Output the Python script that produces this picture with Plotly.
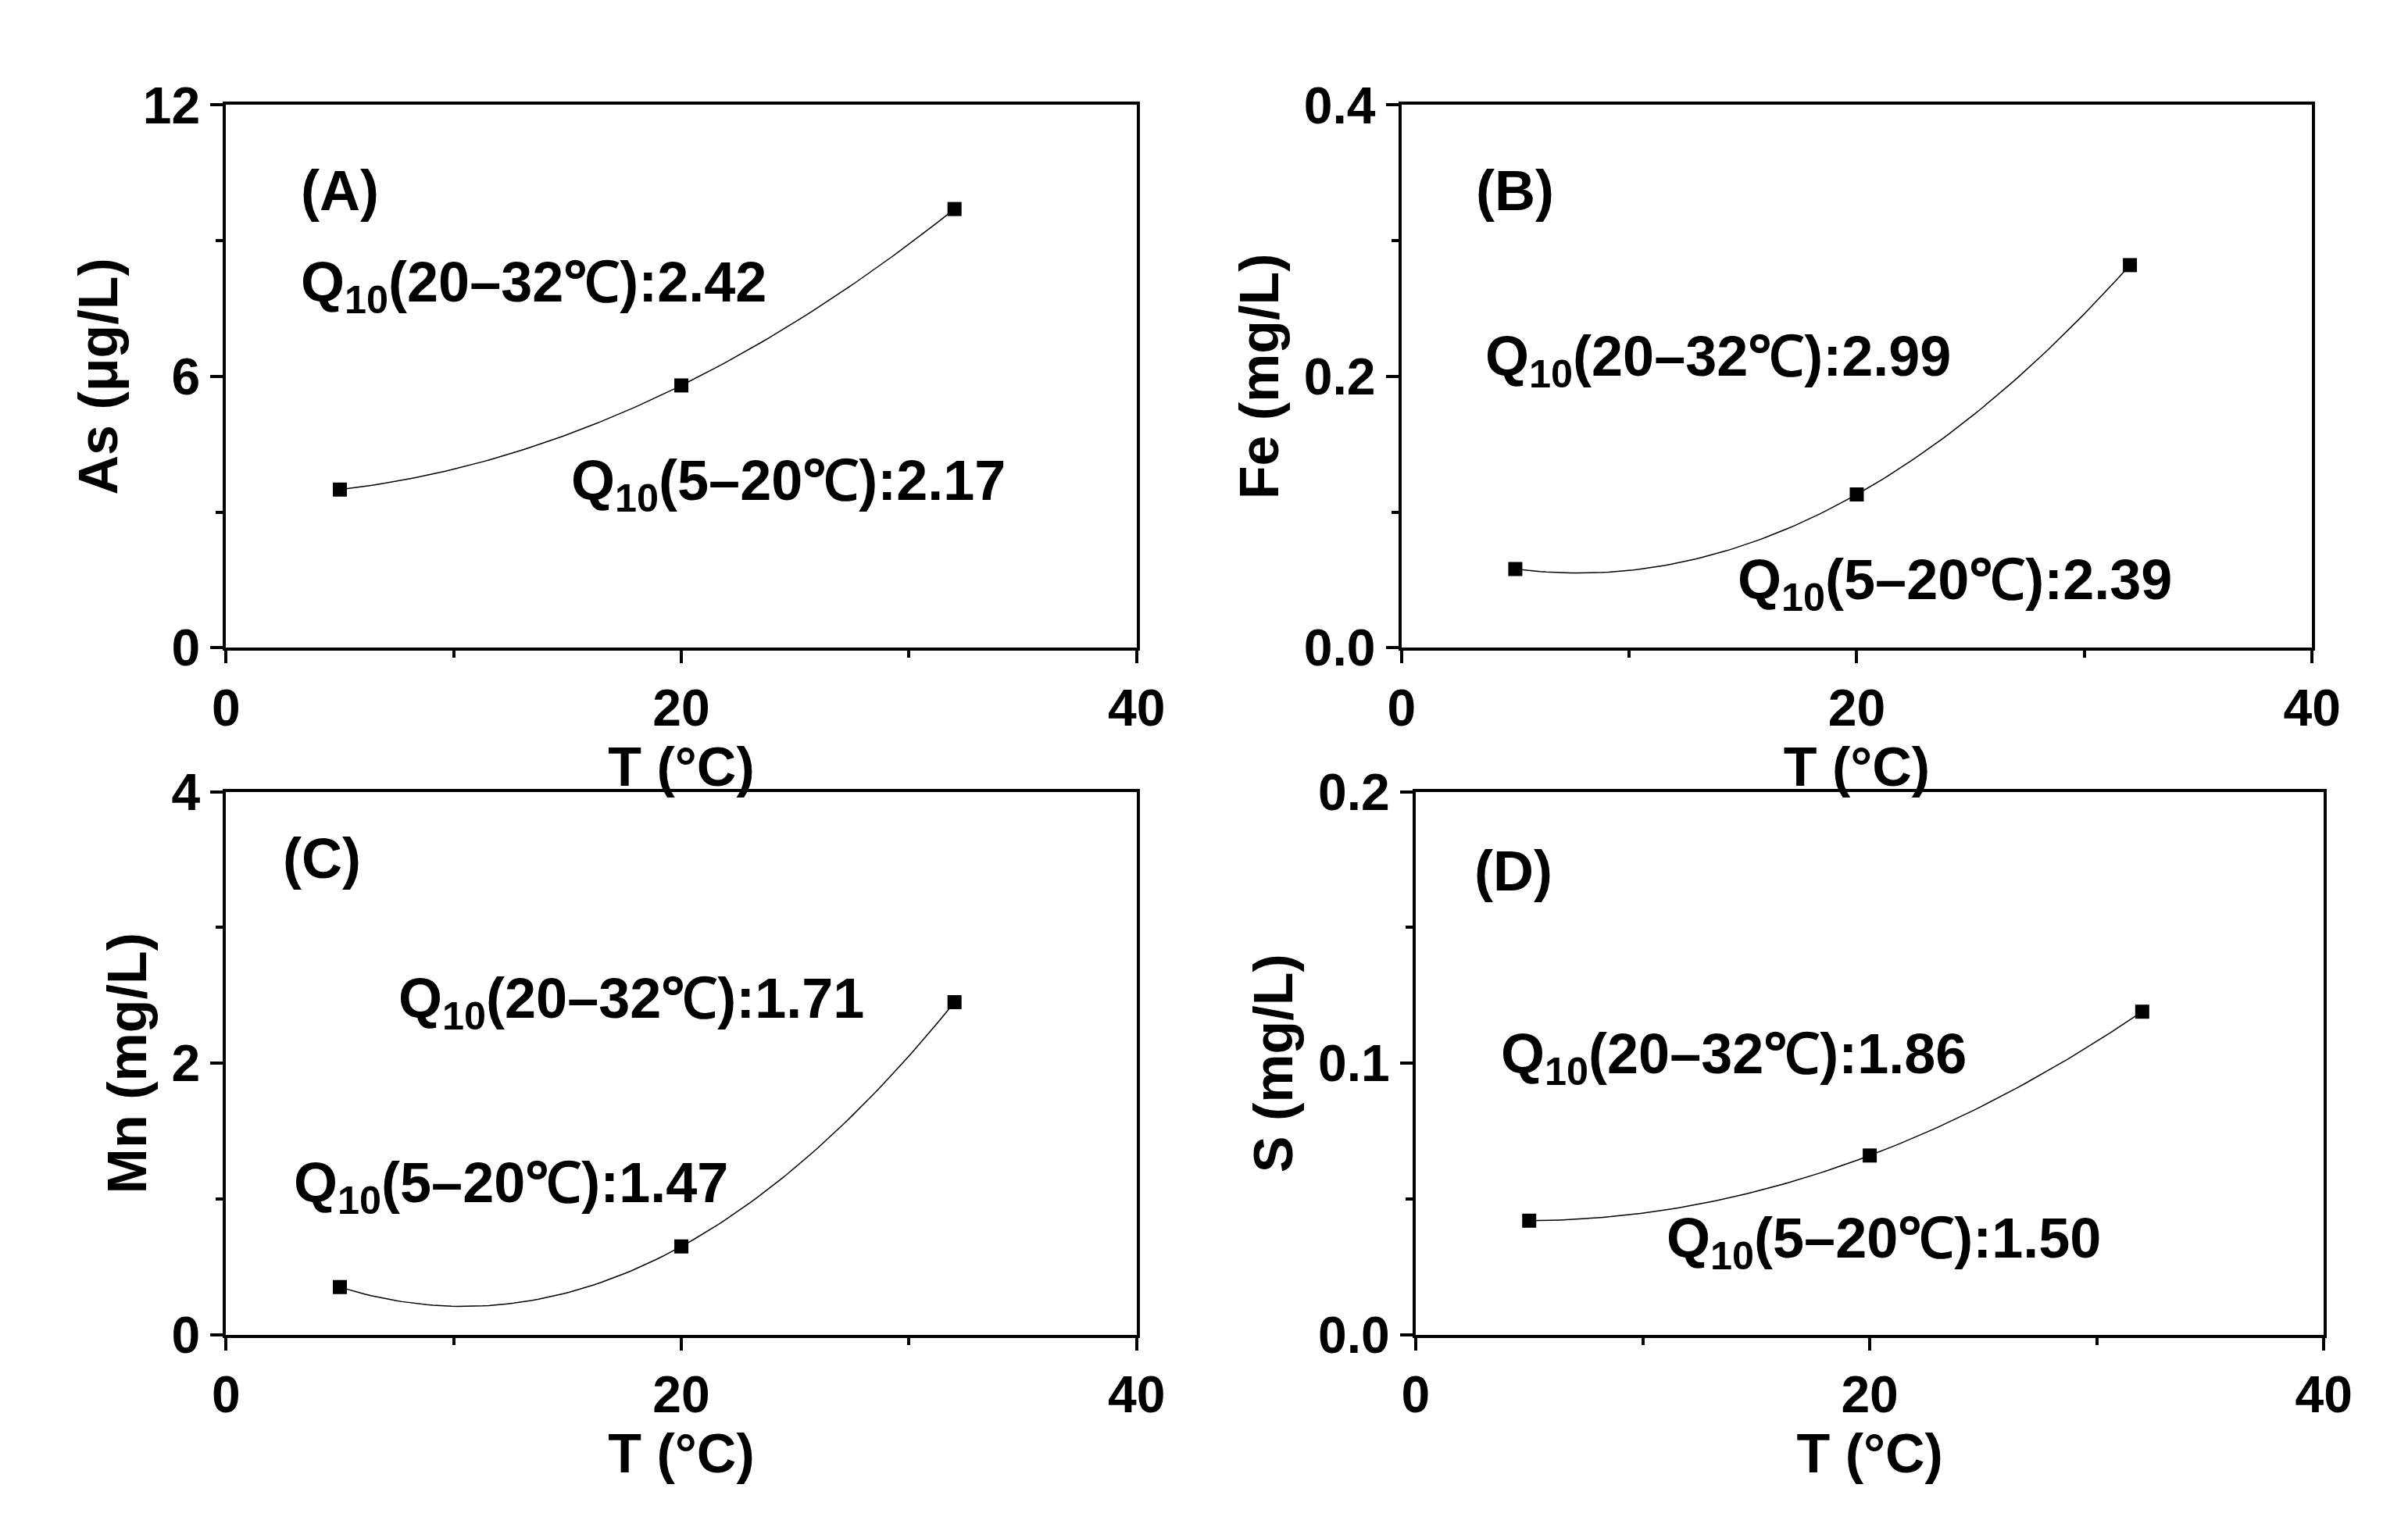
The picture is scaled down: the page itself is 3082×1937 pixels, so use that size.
import numpy as np
import plotly.graph_objects as go

temps = [5, 20, 32]
as_vals = [3.5, 5.8, 9.7]
fe_vals = [0.058, 0.113, 0.282]
mn_vals = [0.35, 0.65, 2.45]
s_vals = [0.042, 0.066, 0.119]

panels = [
    # values, y title, y max, y tick step, tick format, label, q(20-32), q(5-20), positions
    (as_vals, "As (μg/L)", 12, 6, "d", "(A)", "2.42", "2.17", (5, 10.1), (13.5, 8.0), (24.7, 3.6)),
    (fe_vals, "Fe (mg/L)", 0.4, 0.2, ".1f", "(B)", "2.99", "2.39", (5, 0.337), (13.9, 0.212), (24.3, 0.047)),
    (mn_vals, "Mn (mg/L)", 4, 2, "d", "(C)", "1.71", "1.47", (4.2, 3.51), (17.8, 2.45), (12.5, 1.09)),
    (s_vals, "S (mg/L)", 0.2, 0.1, ".1f", "(D)", "1.86", "1.50", (4.3, 0.171), (14.0, 0.102), (20.6, 0.034)),
]
xdoms = [[0.087, 0.472], [0.584, 0.969], [0.087, 0.472], [0.590, 0.974]]
ydoms = [[0.579, 0.952], [0.579, 0.952], [0.107, 0.480], [0.107, 0.480]]

font = "Liberation Sans, Arial, sans-serif"
fig = go.Figure()
layout = {}
annotations = []
for i, (vals, ytitle, ymax, ystep, tfmt, lab, q1, q2, p0, p1, p2) in enumerate(panels):
    n = "" if i == 0 else str(i + 1)
    xa, ya = "x" + n, "y" + n
    coef = np.polyfit(temps, vals, 2)
    xs = np.linspace(5, 32, 100)
    fig.add_trace(go.Scatter(x=xs, y=np.polyval(coef, xs), mode="lines",
                             line=dict(color="black", width=1.5), xaxis=xa, yaxis=ya,
                             showlegend=False))
    fig.add_trace(go.Scatter(x=temps, y=vals, mode="markers",
                             marker=dict(symbol="square", size=18, color="black"),
                             xaxis=xa, yaxis=ya, showlegend=False))
    common = dict(showline=True, linecolor="black", linewidth=4, mirror=True,
                  ticks="outside", ticklen=16, tickwidth=4, tickcolor="black",
                  showgrid=False, zeroline=False,
                  tickfont=dict(size=66, family=font, color="black"))
    layout["xaxis" + n] = dict(common, domain=xdoms[i], range=[0, 40], dtick=20,
                               minor=dict(dtick=10, ticks="outside", ticklen=9, tickwidth=4, tickcolor="black"),
                               anchor=ya,
                               title=dict(text="<b>T (°C)</b>", standoff=2,
                                          font=dict(size=70, family=font, color="black")))
    layout["yaxis" + n] = dict(common, domain=ydoms[i], range=[0, ymax], dtick=ystep,
                               tickformat=tfmt,
                               minor=dict(dtick=ystep / 2, ticks="outside", ticklen=9, tickwidth=4, tickcolor="black"),
                               anchor=xa,
                               title=dict(text="<b>" + ytitle + "</b>", standoff=10,
                                          font=dict(size=70, family=font, color="black")))
    for txt, pos in [(lab, p0),
                     ("Q<sub>10</sub>(20–32℃):" + q1, p1),
                     ("Q<sub>10</sub>(5–20℃):" + q2, p2)]:
        annotations.append(dict(x=pos[0], y=pos[1], xref=xa, yref=ya, showarrow=False,
                                text="<b>" + txt + "</b>",
                                font=dict(size=72, family=font, color="black")))

fig.update_layout(**layout)
fig.update_layout(annotations=annotations, width=3082, height=1937,
                  paper_bgcolor="white", plot_bgcolor="white",
                  margin=dict(l=0, r=0, t=0, b=0),
                  font=dict(family=font, color="black"))
fig.update_xaxes(tickprefix="<b>", ticksuffix="</b>")
fig.update_yaxes(tickprefix="<b>", ticksuffix="</b>")
fig.write_html("out.html")
